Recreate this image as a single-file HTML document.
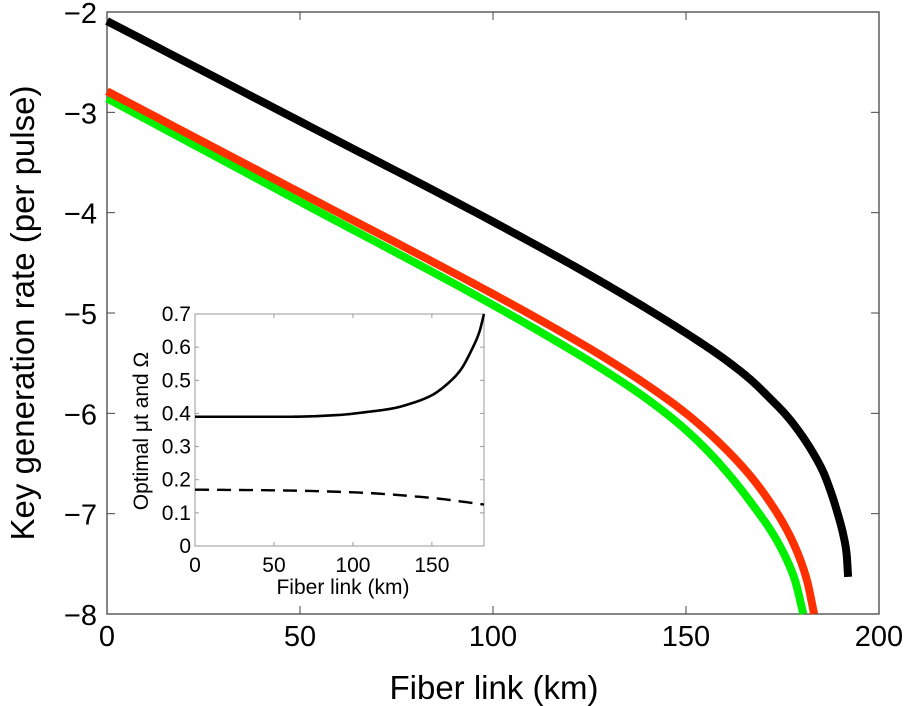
<!DOCTYPE html>
<html><head><meta charset="utf-8"><style>
html,body{margin:0;padding:0;background:#fff}
svg{display:block;font-family:"Liberation Sans",Helvetica,Arial,sans-serif}
</style></head><body>
<svg id="chart" width="906" height="706" viewBox="0 0 906 706"></svg>
<script>
// Main chart data
const xTicks=[0,50,100,150,200];
const yTicks=[-2,-3,-4,-5,-6,-7,-8];
const blackX=[0,50,100,125,140,150,160,166.6,172,176,180,183,185.5,187.5,189.3,190.8,191.6,192];
const blackY=[-2.09,-3.09,-4.09,-4.62,-4.96,-5.2,-5.46,-5.66,-5.86,-6.02,-6.22,-6.4,-6.58,-6.78,-7.0,-7.22,-7.4,-7.63];
const redX=[0,50,100,115,130,140,150,158,166.6,172,176.1,179,181.3,183.2];
const redY=[-2.79,-3.8,-4.81,-5.13,-5.47,-5.72,-6.0,-6.27,-6.62,-6.9,-7.16,-7.4,-7.66,-8];
const greenX=[0,50,100,115,130,140,149.2,156,162.2,168,172.5,176,178.2,180.4];
const greenY=[-2.86,-3.89,-4.92,-5.25,-5.6,-5.86,-6.14,-6.39,-6.66,-6.95,-7.2,-7.45,-7.66,-8];
// Inset data
const inXTicks=[0,50,100,150];
const inYTicks=[0,0.1,0.2,0.3,0.4,0.5,0.6,0.7];
const muX=[0,60,90,110,125,140,150,160,168,175,180,183];
const muY=[0.39,0.39,0.395,0.405,0.415,0.435,0.455,0.49,0.53,0.59,0.645,0.70];
const omX=[0,50,100,150,183];
const omY=[0.17,0.168,0.162,0.145,0.125];

const NS="http://www.w3.org/2000/svg";
const svg=document.getElementById('chart');
function mk(t,a,p){const e=document.createElementNS(NS,t);for(const k in a)e.setAttribute(k,a[k]);(p||svg).appendChild(e);return e;}
const L=107,R=879,T=12,B=614;
const sx=v=>L+(v-0)/200*(R-L);
const sy=v=>T+(-2-v)/6*(B-T);
const iL=195,iR=484,iT=314,iB=546;
const ix=v=>iL+v/183*(iR-iL);
const iy=v=>iB-v/0.7*(iB-iT);
// monotone cubic (Fritsch-Carlson) in data space, sampled densely
function path(xs,ys,fx,fy){
  const n=xs.length,d=[],m=new Array(n);
  for(let i=0;i<n-1;i++)d.push((ys[i+1]-ys[i])/(xs[i+1]-xs[i]));
  m[0]=d[0];m[n-1]=d[n-2];
  for(let i=1;i<n-1;i++){
    if(d[i-1]*d[i]<=0)m[i]=0;
    else{const h0=xs[i]-xs[i-1],h1=xs[i+1]-xs[i];const w1=2*h1+h0,w2=h1+2*h0;m[i]=(w1+w2)/(w1/d[i-1]+w2/d[i]);}
  }
  let s='M'+fx(xs[0]).toFixed(2)+','+fy(ys[0]).toFixed(2);
  for(let i=0;i<n-1;i++){
    const h=xs[i+1]-xs[i];
    for(let k=1;k<=20;k++){
      const t=k/20,t2=t*t,t3=t2*t;
      const y=(2*t3-3*t2+1)*ys[i]+(t3-2*t2+t)*h*m[i]+(-2*t3+3*t2)*ys[i+1]+(t3-t2)*h*m[i+1];
      const x=xs[i]+t*h;
      s+=' L'+fx(x).toFixed(2)+','+fy(y).toFixed(2);
    }
  }
  return s;
}
// main frame
let e=mk('rect',{x:L,y:T,width:R-L,height:B-T,fill:'none',stroke:'#444','stroke-width':1.3});


xTicks.forEach(v=>{
  const x=sx(v);
  mk('line',{x1:x,x2:x,y1:B,y2:B-8,stroke:'#444'});
  mk('line',{x1:x,x2:x,y1:T,y2:T+8,stroke:'#444'});
  let lb=mk('text',{x:x,y:646,'font-size':29,'text-anchor':'middle',fill:'#000'});
  lb.textContent=v;
  
  
});
yTicks.forEach(v=>{
  const y=sy(v);
  mk('line',{x1:L,x2:L+8,y1:y,y2:y,stroke:'#444'});
  mk('line',{x1:R,x2:R-8,y1:y,y2:y,stroke:'#444'});
  let lb=mk('text',{x:97,y:y+11,'font-size':29,'text-anchor':'end',fill:'#000'});
  lb.textContent='\u2212'+Math.abs(v);
  
  
});
e=mk('text',{x:494,y:699,'font-size':33,'text-anchor':'middle'});e.textContent='Fiber link (km)';


e=mk('text',{x:0,y:0,'font-size':33,'text-anchor':'middle',transform:'translate(34,313) rotate(-90)'});e.textContent='Key generation rate (per pulse)';


// series
e=mk('path',{d:path(greenX,greenY,sx,sy),fill:'none',stroke:'#00f000','stroke-width':8});


e=mk('path',{d:path(redX,redY,sx,sy),fill:'none',stroke:'#ff3000','stroke-width':8});


e=mk('path',{d:path(blackX,blackY,sx,sy),fill:'none',stroke:'#000','stroke-width':8});


// inset
e=mk('rect',{x:iL,y:iT,width:iR-iL,height:iB-iT,fill:'#fff',stroke:'#999','stroke-width':1});


inXTicks.forEach(v=>{
  const x=ix(v);
  mk('line',{x1:x,x2:x,y1:iB,y2:iB-4,stroke:'#999'});
  mk('line',{x1:x,x2:x,y1:iT,y2:iT+4,stroke:'#999'});
  let lb=mk('text',{x:x,y:572,'font-size':21,'text-anchor':'middle'});lb.textContent=v;
  
  
});
inYTicks.forEach(v=>{
  const y=iy(v);
  mk('line',{x1:iL,x2:iL+4,y1:y,y2:y,stroke:'#999'});
  mk('line',{x1:iR,x2:iR-4,y1:y,y2:y,stroke:'#999'});
  let lb=mk('text',{x:191,y:y+7,'font-size':21,'text-anchor':'end'});lb.textContent=v===0?'0':v.toFixed(1);
  
  
});
e=mk('text',{x:343,y:594,'font-size':21,'text-anchor':'middle'});e.textContent='Fiber link (km)';


e=mk('text',{x:0,y:0,'font-size':21,'text-anchor':'middle',transform:'translate(148,431) rotate(-90)'});e.textContent='Optimal \u03BCt and \u03A9';


e=mk('path',{d:path(muX,muY,ix,iy),fill:'none',stroke:'#000','stroke-width':2.6});


e=mk('path',{d:path(omX,omY,ix,iy),fill:'none',stroke:'#000','stroke-width':2.4,'stroke-dasharray':'14,8'});


</script>
</body></html>
